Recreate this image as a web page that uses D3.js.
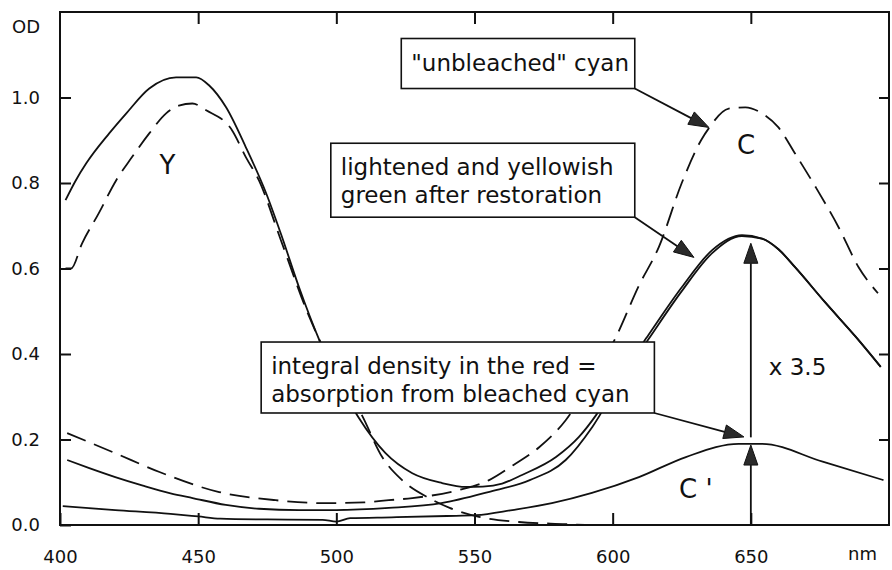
<!DOCTYPE html>
<html>
<head>
<meta charset="utf-8">
<script src="https://cdn.jsdelivr.net/npm/d3@7"></script>
<style>
  body { margin: 0; background: #fff; }
  svg { display: block; font-family: "DejaVu Sans", sans-serif; }
</style>
</head>
<body>
<div id="chart"></div>
<script>
// [wavelength nm, optical density]
const restoredTotal = [
  [402, 0.76], [405.7, 0.806], [409.5, 0.846], [417.8, 0.916], [424, 0.963],
  [432.3, 1.021], [442, 1.047], [449.3, 1.047], [454, 1.028], [460.1, 0.977],
  [467.3, 0.883], [474.6, 0.776], [480, 0.68], [486.5, 0.556], [494, 0.43],
  [500, 0.345], [508, 0.252], [517.8, 0.168], [527.5, 0.121], [538.3, 0.098],
  [547, 0.089], [553, 0.09], [560, 0.097], [567.2, 0.117], [579.5, 0.159],
  [587.8, 0.206], [594, 0.257], [603, 0.35], [613, 0.445], [625, 0.556],
  [636, 0.643], [646.8, 0.678], [654, 0.67], [660, 0.645], [666, 0.603],
  [677, 0.52], [688, 0.44], [697, 0.37]
];
const restoredCyan = [
  [402.6, 0.152], [410.6, 0.133], [420, 0.112], [430, 0.092], [440, 0.074],
  [448, 0.063], [460, 0.047], [472, 0.038], [486.5, 0.035], [500, 0.035],
  [519, 0.04], [538, 0.051], [555, 0.077], [570, 0.105], [583, 0.152],
  [592.7, 0.23], [603, 0.34], [613, 0.435], [625, 0.547], [636, 0.636],
  [646.8, 0.676], [654, 0.67], [660, 0.645], [666, 0.603], [677, 0.52],
  [688, 0.44], [697, 0.37]
];
const bleachedCyan = [
  [401, 0.044], [420, 0.035], [440, 0.026], [450, 0.02], [458, 0.015],
  [475, 0.013], [495, 0.012], [500, 0.008], [505, 0.016], [520, 0.018],
  [540, 0.021], [550.6, 0.023], [563.7, 0.035], [578, 0.051], [592.5, 0.075],
  [609.5, 0.112], [626.5, 0.159], [645.6, 0.19], [654, 0.19], [676, 0.148],
  [698, 0.105]
];
const unbleachedYellow = [
  [402, 0.6], [404, 0.6], [408, 0.659], [414, 0.729], [420.3, 0.806],
  [426, 0.86], [432.3, 0.916], [438.4, 0.963], [443, 0.981], [447.9, 0.986],
  [452.9, 0.97], [462.3, 0.923], [467.3, 0.86], [472, 0.806], [480, 0.665],
  [490, 0.49], [500, 0.355], [509, 0.26], [516.6, 0.159], [523.8, 0.105],
  [533.5, 0.063], [541, 0.04], [551.6, 0.019], [566, 0.007], [583, 0.002],
  [590, 0.0]
];
const unbleachedCyan = [
  [402.6, 0.215], [420, 0.168], [436, 0.124], [457.6, 0.077], [478, 0.058],
  [496, 0.051], [510, 0.053], [519, 0.058], [527.5, 0.063], [544.5, 0.082],
  [555.3, 0.105], [564, 0.14], [573.4, 0.182], [583, 0.245], [592, 0.335],
  [601, 0.437], [609.5, 0.56], [616.7, 0.65], [625, 0.8], [632, 0.9],
  [635, 0.93], [642, 0.974], [648, 0.977], [654, 0.963], [660, 0.93],
  [666, 0.869], [673.5, 0.79], [681.8, 0.696], [689, 0.603], [696, 0.542]
];

const xTicks = [400, 450, 500, 550, 600, 650];
const yTicks = [0, 0.2, 0.4, 0.6, 0.8, 1.0];

// boxed notes: corners and arrow tip in data units (nm, OD)
const notes = [
  { lines: ['"unbleached" cyan'], x0: 523.5, x1: 608, y0: 1.138, y1: 1.021, tip: [634.8, 0.93] },
  { lines: ["lightened and yellowish", "green after restoration"], x0: 498, x1: 608, y0: 0.893, y1: 0.72, tip: [629.4, 0.626] },
  { lines: ["integral density in the red =", "absorption from bleached cyan"], x0: 472.8, x1: 615.1, y0: 0.428, y1: 0.262, tip: [647.5, 0.206] }
];
const scaleArrows = [
  { from: [650, 0], to: [650, 0.187] },
  { from: [650, 0.205], to: [650, 0.659] }
];
const curveLabels = [
  { text: "Y", nm: 436, od: 0.822 },
  { text: "C", nm: 645, od: 0.869 },
  { text: "C '", nm: 624, od: 0.063 },
  { text: "x 3.5", nm: 656.5, od: 0.35, small: true }
];

const width = 892, height = 570;
const x = d3.scaleLinear().domain([400, 700]).range([60, 889]);
const y = d3.scaleLinear().domain([0, 1.2]).range([525, 12]);
const ink = "#111";

const svg = d3.select("#chart").append("svg")
  .attr("width", width)
  .attr("height", height);

const line = d3.line()
  .x((d) => x(d[0]))
  .y((d) => y(d[1]))
  .curve(d3.curveMonotoneX);

const series = [
  { data: unbleachedYellow, dash: "20,9" },
  { data: unbleachedCyan, dash: "20,9" },
  { data: bleachedCyan },
  { data: restoredCyan },
  { data: restoredTotal }
];

svg.append("g")
  .selectAll("path")
  .data(series)
  .join("path")
  .attr("d", (d) => line(d.data))
  .attr("fill", "none")
  .attr("stroke", ink)
  .attr("stroke-width", 1.8)
  .attr("stroke-dasharray", (d) => d.dash || null);

function arrow(g, x1, y1, x2, y2) {
  const a = Math.atan2(y2 - y1, x2 - x1);
  const len = 20, half = 7;
  const bx = x2 - len * Math.cos(a), by = y2 - len * Math.sin(a);
  g.append("line")
    .attr("x1", x1).attr("y1", y1).attr("x2", bx).attr("y2", by)
    .attr("stroke", ink).attr("stroke-width", 1.8);
  const pts = [
    [x2, y2],
    [bx + half * Math.sin(a), by - half * Math.cos(a)],
    [bx - half * Math.sin(a), by + half * Math.cos(a)]
  ];
  g.append("path")
    .attr("d", "M" + pts.join("L") + "Z")
    .attr("fill", "#2a2a2a")
    .attr("stroke", ink)
    .attr("stroke-width", 1);
}

// notes
const gNotes = svg.append("g");
notes.forEach((n) => {
  const left = x(n.x0), right = x(n.x1), top = y(n.y0), bottom = y(n.y1);
  gNotes.append("rect")
    .attr("x", left).attr("y", top)
    .attr("width", right - left).attr("height", bottom - top)
    .attr("fill", "#fff")
    .attr("stroke", ink)
    .attr("stroke-width", 1.6);
  gNotes.append("text")
    .attr("font-size", 23)
    .attr("fill", ink)
    .selectAll("tspan")
    .data(n.lines)
    .join("tspan")
    .attr("x", left + 10)
    .attr("y", (d, i) => top + 32 + i * 28)
    .text((d) => d);
  arrow(gNotes, right, bottom, x(n.tip[0]), y(n.tip[1]));
});

scaleArrows.forEach((a) => {
  arrow(gNotes, x(a.from[0]), y(a.from[1]), x(a.to[0]), y(a.to[1]));
});

svg.append("g")
  .selectAll("text")
  .data(curveLabels)
  .join("text")
  .attr("x", (d) => x(d.nm))
  .attr("y", (d) => y(d.od))
  .attr("font-size", (d) => (d.small ? 23 : 26))
  .attr("fill", ink)
  .text((d) => d.text);

// frame and axes
svg.append("rect")
  .attr("x", x.range()[0]).attr("y", y.range()[1])
  .attr("width", x.range()[1] - x.range()[0])
  .attr("height", y.range()[0] - y.range()[1])
  .attr("fill", "none")
  .attr("stroke", ink)
  .attr("stroke-width", 2);

const styleAxis = (g) => {
  g.select(".domain").remove();
  g.selectAll(".tick line").attr("stroke", ink).attr("stroke-width", 2);
  g.selectAll(".tick text").attr("fill", ink).attr("font-size", 18)
    .attr("font-family", "DejaVu Sans, sans-serif");
};

svg.append("g")
  .attr("transform", `translate(${x.range()[0]},0)`)
  .call(d3.axisLeft(y).tickValues(yTicks).tickSize(-11).tickPadding(20).tickFormat(d3.format(".1f")))
  .call(styleAxis);

svg.append("g")
  .attr("transform", `translate(${x.range()[1]},0)`)
  .call(d3.axisRight(y).tickValues(yTicks.slice(1)).tickSize(-10).tickFormat(""))
  .call(styleAxis);

svg.append("g")
  .attr("transform", `translate(0,${y.range()[0]})`)
  .call(d3.axisBottom(x).tickValues(xTicks).tickSize(-12).tickPadding(25))
  .call(styleAxis);

svg.append("g")
  .attr("transform", `translate(0,${y.range()[1]})`)
  .call(d3.axisTop(x).tickValues(xTicks.slice(1)).tickSize(-12).tickFormat(""))
  .call(styleAxis);

svg.append("text")
  .attr("x", 12).attr("y", 33)
  .attr("font-size", 18).attr("fill", ink)
  .text("OD");

svg.append("text")
  .attr("x", 848).attr("y", 560)
  .attr("font-size", 18).attr("fill", ink)
  .text("nm");
</script>
</body>
</html>
